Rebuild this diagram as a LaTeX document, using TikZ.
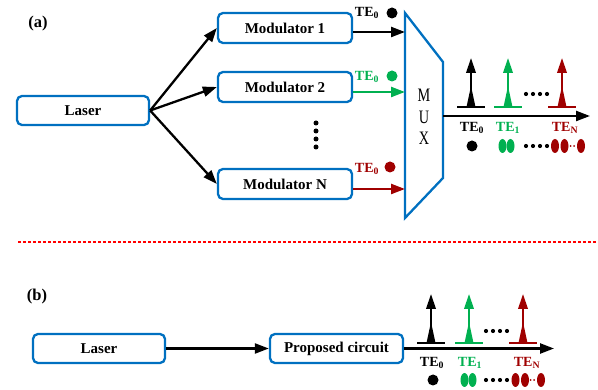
\documentclass[tikz,border=0pt]{standalone}
\usepackage{fontspec}
\setmainfont{Liberation Serif}
\newfontfamily\muxfont[FakeStretch=0.75]{Liberation Serif}
\usetikzlibrary{arrows.meta,calc}
\definecolor{boxblue}{HTML}{0070C0}
\definecolor{tegreen}{HTML}{00B050}
\definecolor{tered}{HTML}{A00000}
\begin{document}
\begin{tikzpicture}[x=1pt,y=-1pt,
  blk/.style={draw=boxblue,line width=2.3pt,rounded corners=5pt,minimum width=132pt,minimum height=29pt,
    font=\fontsize{15}{16}\selectfont\bfseries,inner sep=0pt},
  arr/.style={line width=2.3pt,-{Triangle[length=14pt,width=10pt]}},
  tel/.style={font=\fontsize{14}{15}\selectfont\bfseries,inner sep=0pt},
  lbl/.style={font=\fontsize{16.5}{18}\selectfont\bfseries,inner sep=0pt},
  muxl/.style={font=\fontsize{19}{20}\selectfont\muxfont,inner sep=0pt},
  peak/.pic={
    \draw[line width=2pt] (-14,0) -- (14,0);
    \fill (-4.5,0) -- (0,-21) -- (4.5,0) -- cycle;
    \draw[line width=2.2pt,-{Triangle[length=15pt,width=9.5pt]}] (0,0) -- (0,-49);
  }]
\useasboundingbox (0,0) rectangle (598,390);

% ---------- (a) ----------
\node[lbl] (la) at (38,24) {(a)};
\node[blk] (las1) at (83,110.5) {Laser};
\node[blk,minimum width=134pt,minimum height=30pt] (mod1) at (285,28) {Modulator 1};
\node[blk,minimum width=134pt,minimum height=30pt] (mod2) at (285,87) {Modulator 2};
\node[blk,minimum width=134pt,minimum height=30pt] (modN) at (285,184) {Modulator N};
\foreach \y in {123,131,139,147} \fill (316,\y) circle[radius=2.5pt];

\draw[arr] (las1.east) -- (mod1.west);
\draw[arr] (las1.east) -- (mod2.west);
\draw[arr] (las1.east) -- (modN.west);

% MUX
\coordinate (m1) at (405,13);
\coordinate (m2) at (443,62);
\coordinate (m3) at (443,178);
\coordinate (m4) at (405,218);
\draw[boxblue,line width=2.3pt,line join=miter] (m1) -- (m2) -- (m3) -- (m4) -- cycle;
\node[muxl] (mxM) at (424,95.5) {M};
\node[muxl] (mxU) at (424,117.5) {U};
\node[muxl] (mxX) at (424,138.5) {X};

\coordinate (in1) at (405,32);
\coordinate (in2) at (405,92);
\coordinate (inN) at (405,189);
\draw[arr] (mod1.east |- in1) -- (in1);
\draw[arr,tegreen] (mod2.east |- in2) -- (in2);
\draw[arr,tered] (modN.east |- inN) -- (inN);

\node[tel] (t1) at (367,13) {TE\textsubscript{0}};
\fill (392,13) circle[radius=5.5pt];
\node[tel,tegreen] (t2) at (367,77) {TE\textsubscript{0}};
\fill[tegreen] (392,76) circle[radius=5.5pt];
\node[tel,tered] (tN) at (367,169) {TE\textsubscript{0}};
\fill[tered] (390,167) circle[radius=5.5pt];

\coordinate (mo) at (443,116);
\coordinate (oe) at (590,116);
\draw[arr] (mo) -- (oe);

\pic[color=black] at (471,107) {peak};
\pic[color=tegreen] at (508,107) {peak};
\pic[color=tered] at (562,107) {peak};
\foreach \x in {526,533,540,547} \fill (\x,94) circle[radius=2.1pt];

\node[tel] (oa0) at (472,128) {TE\textsubscript{0}};
\node[tel,tegreen] (oa1) at (508,128) {TE\textsubscript{1}};
\node[tel,tered] (oaN) at (565,128) {TE\textsubscript{N}};

\fill (472,146) circle[radius=5.5pt];
\fill[tegreen] (502.5,146) ellipse[x radius=4pt,y radius=7pt];
\fill[tegreen] (510.5,146) ellipse[x radius=4pt,y radius=7pt];
\foreach \x in {526,533,540,547} \fill (\x,146) circle[radius=2.1pt];
\fill[tered] (555,146) ellipse[x radius=4pt,y radius=7pt];
\fill[tered] (564.5,146) ellipse[x radius=4pt,y radius=7pt];
\fill[tered] (570.5,146) circle[radius=1pt];
\fill[tered] (574,146) circle[radius=1pt];
\fill[tered] (581,146) ellipse[x radius=4pt,y radius=7pt];

% separator
\draw[red,line width=1.4pt,dash pattern=on 3pt off 2pt] (18,242) -- (598,242);

% ---------- (b) ----------
\node[lbl] (lb) at (37,297) {(b)};
\node[blk] (las2) at (99,348.5) {Laser};
\node[blk,minimum width=133pt] (prop) at (336.5,348.5) {Proposed circuit};
\draw[arr] (las2) -- (prop);
\coordinate (oe2) at (554,348.5);
\draw[arr] (prop.east) -- (oe2);

\pic[color=black] at (431,343) {peak};
\pic[color=tegreen] at (469,343) {peak};
\pic[color=tered] at (523,343) {peak};
\foreach \x in {486,493,500,507} \fill (\x,331) circle[radius=2.1pt];

\node[tel] (ob0) at (432,363) {TE\textsubscript{0}};
\node[tel,tegreen] (ob1) at (470,363) {TE\textsubscript{1}};
\node[tel,tered] (obN) at (527,363) {TE\textsubscript{N}};

\fill (433,380) circle[radius=5.5pt];
\fill[tegreen] (464.5,380) ellipse[x radius=4pt,y radius=7pt];
\fill[tegreen] (472.5,380) ellipse[x radius=4pt,y radius=7pt];
\foreach \x in {486,493,500,507} \fill (\x,380) circle[radius=2.1pt];
\fill[tered] (515.5,380) ellipse[x radius=4pt,y radius=7pt];
\fill[tered] (525,380) ellipse[x radius=4pt,y radius=7pt];
\fill[tered] (530.5,380) circle[radius=1pt];
\fill[tered] (534,380) circle[radius=1pt];
\fill[tered] (541,380) ellipse[x radius=4pt,y radius=7pt];
\end{tikzpicture}
\end{document}
